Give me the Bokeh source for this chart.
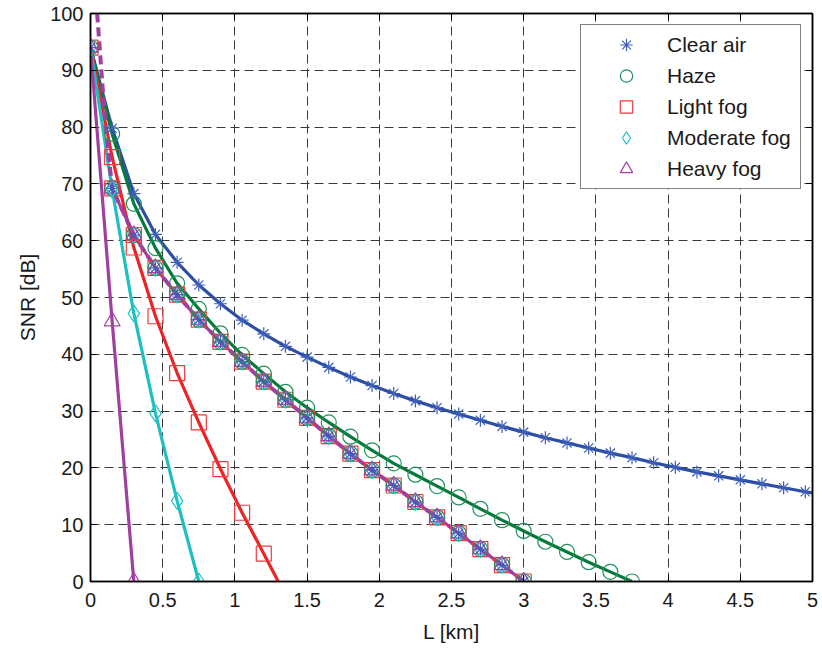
from bokeh.plotting import figure
from bokeh.models import (LinearAxis, Range1d, Legend, LegendItem, FixedTicker,
                          CustomJSTickFormatter)
from bokeh.embed import file_html
from bokeh.resources import INLINE

# ---------------- data ----------------
x_ticks = [0, 0.5, 1, 1.5, 2, 2.5, 3, 3.5, 4, 4.5, 5]
y_ticks = [0, 10, 20, 30, 40, 50, 60, 70, 80, 90, 100]

L_clear = [0.0, 0.15, 0.3, 0.45, 0.6, 0.75, 0.9, 1.05, 1.2, 1.35, 1.5, 1.65,
           1.8, 1.95, 2.1, 2.25, 2.4, 2.55, 2.7, 2.85, 3.0, 3.15, 3.3, 3.45,
           3.6, 3.75, 3.9, 4.05, 4.2, 4.35, 4.5, 4.65, 4.8, 4.95]
snr_clear = [94.0, 79.8, 68.3, 61.1, 56.2, 52.2, 48.9, 46.0, 43.6, 41.4, 39.5,
             37.7, 36.0, 34.5, 33.1, 31.8, 30.6, 29.5, 28.4, 27.3, 26.3, 25.3,
             24.4, 23.5, 22.6, 21.8, 20.9, 20.1, 19.3, 18.6, 17.9, 17.2, 16.5,
             15.8]
L_clear_end = [5.0]
snr_clear_end = [15.6]

L_haze = [0.0, 0.15, 0.3, 0.45, 0.6, 0.75, 0.9, 1.05, 1.2, 1.35, 1.5, 1.65,
          1.8, 1.95, 2.1, 2.25, 2.4, 2.55, 2.7, 2.85, 3.0, 3.15, 3.3, 3.45,
          3.6, 3.75]
snr_haze = [94.0, 78.8, 66.5, 58.7, 52.5, 48.0, 43.7, 39.9, 36.6, 33.4, 30.6,
            28.0, 25.5, 23.1, 20.8, 18.8, 16.8, 14.8, 12.8, 10.8, 8.9, 7.0,
            5.2, 3.4, 1.7, 0.0]

L_light = [0.0, 0.15, 0.3, 0.45, 0.6, 0.75, 0.9, 1.05, 1.2]
snr_light = [94.0, 74.7, 58.8, 46.7, 36.7, 28.0, 19.8, 12.1, 4.9]
L_light_end = [1.3]
snr_light_end = [0.0]

L_moderate = [0.0, 0.15, 0.3, 0.45, 0.6, 0.75]
snr_moderate = [94.0, 69.0, 47.2, 29.6, 14.2, 0.0]

L_heavy = [0.0, 0.15, 0.3]
snr_heavy = [94.0, 45.8, 0.0]

# curve on which the markers of all five conditions coincide
L_common = [0.15, 0.3, 0.45, 0.6, 0.75, 0.9, 1.05, 1.2, 1.35, 1.5, 1.65, 1.8,
            1.95, 2.1, 2.25, 2.4, 2.55, 2.7, 2.85, 3.0]
snr_common = [69.2, 61.0, 55.2, 50.5, 46.1, 42.2, 38.7, 35.2, 32.0, 28.8, 25.6,
              22.5, 19.6, 16.9, 14.0, 11.3, 8.5, 5.7, 2.9, 0.0]
# dashed branch leaving the common curve towards the top
L_dash = [0.046, 0.10, 0.15]
snr_dash = [100.0, 81.5, 69.2]

labels = ["Clear air", "Haze", "Light fog", "Moderate fog", "Heavy fog"]

# ---------------- styles ----------------
FONT = "Liberation Sans"
TXT = "#1a1a1a"
c_blue_line, c_blue_m = "#2c4ea3", "#3d5fba"
c_green_line, c_green_m = "#067a3c", "#23925a"
c_red_line, c_red_m = "#ee2326", "#f03a3f"
c_cyan_line, c_cyan_m = "#1fbfbf", "#22c2c8"
c_purp_line, c_purp_m = "#a0409e", "#a544a4"

p = figure(frame_width=722, frame_height=568,
           x_range=Range1d(0, 5), y_range=Range1d(0, 100),
           output_backend="svg", toolbar_location=None,
           min_border_left=90, min_border_right=10,
           min_border_top=13, min_border_bottom=64,
           background_fill_color="white", border_fill_color="white")

p.outline_line_color = "black"
p.outline_line_width = 1.5

for ax, ticks in ((p.xaxis[0], x_ticks), (p.yaxis[0], y_ticks)):
    ax.ticker = FixedTicker(ticks=ticks)
    ax.formatter = CustomJSTickFormatter(code="return tick.toString();")
    ax.major_tick_in = 6
    ax.major_tick_out = 0
    ax.minor_tick_line_color = None
    ax.axis_line_color = "black"
    ax.axis_line_width = 1.5
    ax.major_tick_line_color = "black"
    ax.major_label_text_font = FONT
    ax.major_label_text_font_size = "20px"
    ax.major_label_text_color = TXT
    ax.axis_label_text_font = FONT
    ax.axis_label_text_font_size = "21px"
    ax.axis_label_text_font_style = "normal"
    ax.axis_label_text_color = TXT

p.xaxis.axis_label = "L [km]"
p.yaxis.axis_label = "SNR [dB]"
p.xaxis.major_label_standoff = 11
p.yaxis.major_label_standoff = 7
p.xaxis.axis_label_standoff = 10
p.yaxis.axis_label_standoff = 8

for place, ticks in (("above", x_ticks), ("right", y_ticks)):
    ax = LinearAxis(ticker=FixedTicker(ticks=ticks),
                    formatter=CustomJSTickFormatter(code="return '';"),
                    major_tick_in=6, major_tick_out=0,
                    minor_tick_line_color=None,
                    major_label_text_font_size="1px",
                    major_label_standoff=0,
                    axis_line_width=1.5)
    p.add_layout(ax, place)

for g, ticks in ((p.xgrid[0], x_ticks), (p.ygrid[0], y_ticks)):
    g.ticker = FixedTicker(ticks=ticks)
    g.grid_line_color = "#3a3a3a"
    g.grid_line_width = 1
    g.grid_line_dash = "9 5"

LW = 3.2
# lines
p.line(L_clear + L_clear_end, snr_clear + snr_clear_end, line_color=c_blue_line, line_width=LW)
p.line(L_haze, snr_haze, line_color=c_green_line, line_width=LW)
p.line(L_light + L_light_end, snr_light + snr_light_end, line_color=c_red_line, line_width=LW)
p.line(L_moderate, snr_moderate, line_color=c_cyan_line, line_width=LW)
p.line(L_heavy, snr_heavy, line_color=c_purp_line, line_width=LW)
p.line(L_common, snr_common, line_color=c_purp_line, line_width=LW)
p.line(L_dash + L_common, snr_dash + snr_common, line_color=c_purp_line,
       line_width=4, line_dash="9 5")

# markers on the common curve
p.scatter(L_common, snr_common, marker="square", size=15, fill_color=None, line_color=c_red_m, line_width=1.2)
p.scatter(L_common, snr_common, marker="circle", size=15, fill_color=None, line_color=c_green_m, line_width=1.2)
p.scatter(L_common, snr_common, marker="diamond", size=17, fill_color=None, line_color=c_cyan_m, line_width=1.2)
p.scatter(L_common, snr_common, marker="triangle", size=16, fill_color=None, line_color=c_purp_m, line_width=1.2)
p.scatter(L_common, snr_common, marker="asterisk", size=13, line_color=c_blue_m, line_width=1.2)

# markers on each own curve
r_light = p.scatter(L_light, snr_light, marker="square", size=15, fill_color=None, line_color=c_red_m, line_width=1.2)
r_haze = p.scatter(L_haze, snr_haze, marker="circle", size=15, fill_color=None, line_color=c_green_m, line_width=1.2)
r_mod = p.scatter(L_moderate, snr_moderate, marker="diamond", size=17, fill_color=None, line_color=c_cyan_m, line_width=1.2)
r_heavy = p.scatter(L_heavy, snr_heavy, marker="triangle", size=16, fill_color=None, line_color=c_purp_m, line_width=1.2)
r_clear = p.scatter(L_clear, snr_clear, marker="asterisk", size=13, line_color=c_blue_m, line_width=1.2)

legend = Legend(items=[LegendItem(label=labels[0], renderers=[r_clear]),
                       LegendItem(label=labels[1], renderers=[r_haze]),
                       LegendItem(label=labels[2], renderers=[r_light]),
                       LegendItem(label=labels[3], renderers=[r_mod]),
                       LegendItem(label=labels[4], renderers=[r_heavy])],
                location="top_right")
legend.border_line_color = "black"
legend.border_line_width = 1
legend.background_fill_color = "white"
legend.background_fill_alpha = 1
legend.label_text_font = FONT
legend.label_text_font_size = "21px"
legend.label_text_color = TXT
legend.glyph_width = 82
legend.glyph_height = 31
legend.label_height = 31
legend.label_width = 129
legend.spacing = 0
legend.padding = 4
legend.margin = 11
legend.label_standoff = 0
p.add_layout(legend)

open("out.html", "w").write(file_html(p, INLINE))
